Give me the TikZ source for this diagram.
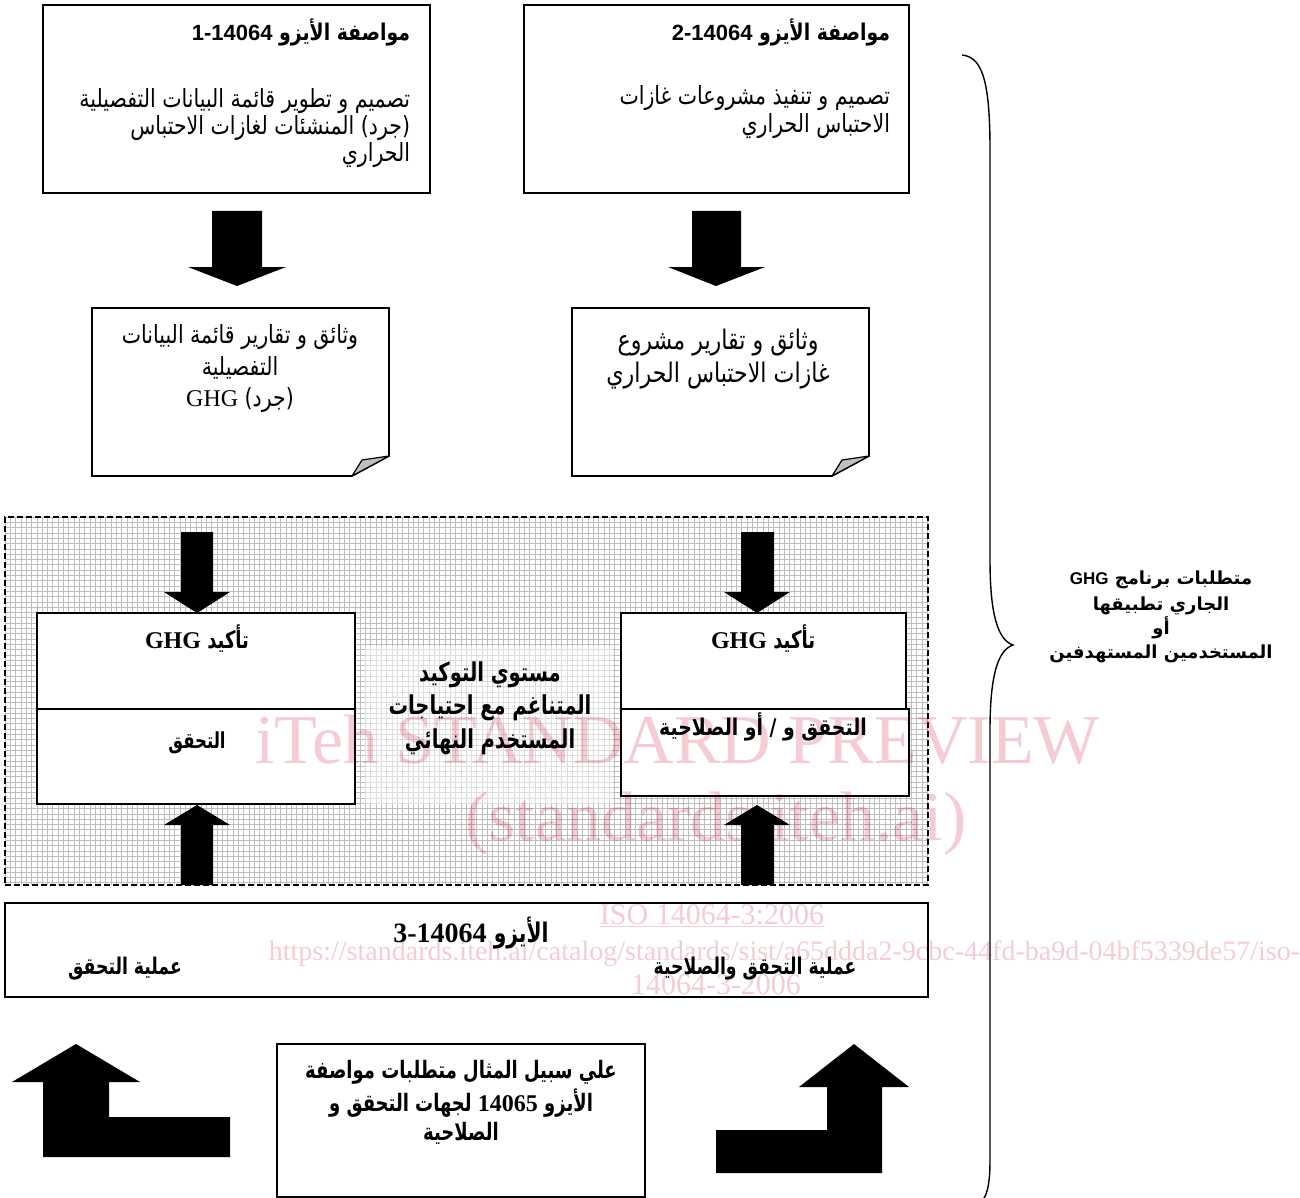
\documentclass[tikz,border=0pt]{standalone}
\usepackage{fontspec}
\setmainfont{Liberation Serif}
\newfontfamily\ar[Script=Arabic]{DejaVu Sans}
\newfontfamily\arn[Script=Arabic,FakeStretch=0.82]{DejaVu Sans}
\newfontfamily\arc[Script=Arabic,FakeStretch=0.75]{DejaVu Sans}
\newfontfamily\lsans{Liberation Sans}
\newfontfamily\lser{Liberation Serif}
\TeXXeTstate=1
\newcommand\ARt[1]{\beginR #1\endR}
\newcommand\LTt[1]{\beginL #1\endL}
\usetikzlibrary{calc}
\definecolor{wmpink}{RGB}{245,204,212}
\tikzset{
  panel/.style={draw=black, line width=1.6pt, fill=white, inner sep=0pt, outer sep=0pt},
  lbl/.style={inner sep=0pt, outer sep=0pt},
  blk/.style={fill=black},
  gridline/.style={draw=black!26, line width=0.6pt},
  dashline/.style={draw=black, line width=1.2pt, dash pattern=on 6pt off 3pt},
  wm/.style={inner sep=0pt, outer sep=0pt, text=wmpink},
  fold/.style={draw=black, line width=1.2pt, fill=black!25, line join=round},
  docline/.style={draw=black, line width=1.6pt, fill=white, line join=miter},
  bodyfont/.style={font=\arn\fontsize{25}{25}\selectfont},
  titlefont/.style={font=\arn\bfseries\fontsize{23}{23}\selectfont},
  condb/.style={font=\arc\bfseries\fontsize{26}{26}\selectfont},
  sidefont/.style={font=\ar\bfseries\fontsize{18}{18}\selectfont},
}
\begin{document}
\begin{tikzpicture}[x=1pt,y=-1pt]
\useasboundingbox (0,0) rectangle (1300,1198);

% ---------- top boxes ----------
\node[panel, minimum width=387, minimum height=188, anchor=north west] (b1) at (43,5) {};
\node[panel, minimum width=385, minimum height=188, anchor=north west] (b2) at (524,5) {};

\node[lbl, titlefont, anchor=base east] (b1t) at (410,41) {\ARt{مواصفة الأيزو \LTt{{\lsans\bfseries\fontsize{22}{22}\selectfont 1-14064}}}};
\node[lbl, bodyfont, anchor=base east] (b1a) at (410,108) {\ARt{تصميم و تطوير قائمة البيانات التفصيلية}};
\node[lbl, bodyfont, anchor=base east] (b1b) at (410,135) {\ARt{(جرد) المنشئات لغازات الاحتباس}};
\node[lbl, bodyfont, anchor=base east] (b1c) at (410,162) {\ARt{الحراري}};

\node[lbl, titlefont, anchor=base east] (b2t) at (890,41) {\ARt{مواصفة الأيزو \LTt{{\lsans\bfseries\fontsize{22}{22}\selectfont 2-14064}}}};
\node[lbl, bodyfont, anchor=base east] (b2a) at (890,105) {\ARt{تصميم و تنفيذ مشروعات غازات}};
\node[lbl, bodyfont, anchor=base east] (b2b) at (890,133) {\ARt{الاحتباس الحراري}};

% ---------- top block arrows ----------
\fill[blk] (212,211) -- (262,211) -- (262,267) -- (286,267) -- (237,286) -- (188,267) -- (212,267) -- cycle;
\fill[blk] (692,211) -- (741,211) -- (741,267) -- (765,267) -- (716,286) -- (668,267) -- (692,267) -- cycle;

% ---------- document shapes ----------
\node[lbl, minimum width=297, minimum height=168, anchor=north west] (d1) at (92,308) {};
\node[lbl, minimum width=297, minimum height=168, anchor=north west] (d2) at (572,308) {};
\draw[docline] (d1.north west) -- (d1.north east) -- ([yshift=20pt]d1.south east) -- ([xshift=-37pt]d1.south east) -- (d1.south west) -- cycle;
\draw[fold] ([yshift=20pt]d1.south east) -- ([xshift=-37pt]d1.south east) -- ([xshift=-27pt,yshift=16pt]d1.south east) -- cycle;
\draw[docline] (d2.north west) -- (d2.north east) -- ([yshift=20pt]d2.south east) -- ([xshift=-37pt]d2.south east) -- (d2.south west) -- cycle;
\draw[fold] ([yshift=20pt]d2.south east) -- ([xshift=-37pt]d2.south east) -- ([xshift=-27pt,yshift=16pt]d2.south east) -- cycle;

\node[lbl, bodyfont, anchor=base] (d1a) at (240,343) {\ARt{وثائق و تقارير قائمة البيانات}};
\node[lbl, bodyfont, anchor=base] (d1b) at (240,375) {\ARt{التفصيلية}};
\node[lbl, bodyfont, anchor=base] (d1c) at (240,406) {\ARt{(جرد) \LTt{{\lser\fontsize{24}{24}\selectfont GHG}}}};
\node[lbl, font=\arn\fontsize{27}{27}\selectfont, anchor=base] (d2a) at (718,349) {\ARt{وثائق و تقارير مشروع}};
\node[lbl, font=\arn\fontsize{27}{27}\selectfont, anchor=base] (d2b) at (718,382) {\ARt{غازات الاحتباس الحراري}};

% ---------- grid region ----------
\begin{scope}
\clip (5,517) rectangle (928,885);
\fill[white] (5,517) rectangle (928,885);
\foreach \x in {5,10.3,...,930} \draw[gridline] (\x,517) -- (\x,885);
\foreach \y in {517,522.3,...,887} \draw[gridline] (5,\y) -- (928,\y);
\end{scope}
\fill[white, opacity=0.5] (365,646) rectangle (613,804);
\node[lbl, dashline, minimum width=923, minimum height=368, anchor=north west] (reg) at (5,517) {};

% inner arrows
\fill[blk] (181,532) -- (213,532) -- (213,592) -- (230,592) -- (197,613) -- (164,592) -- (181,592) -- cycle;
\fill[blk] (741,532) -- (774,532) -- (774,592) -- (790,592) -- (757,613) -- (724,592) -- (741,592) -- cycle;
\fill[blk] (181,885) -- (213,885) -- (213,825) -- (230,825) -- (197,805) -- (164,825) -- (181,825) -- cycle;
\fill[blk] (741,885) -- (774,885) -- (774,825) -- (790,825) -- (757,805) -- (724,825) -- (741,825) -- cycle;

% assurance boxes
\node[panel, line width=1.4pt, minimum width=318, minimum height=191, anchor=north west] (aL) at (37,613) {};
\draw[line width=1.4pt] (37,709) -- (355,709);
\node[panel, line width=1.4pt, minimum width=285, minimum height=96, anchor=north west] (aR1) at (621,613) {};
\node[panel, line width=1.4pt, minimum width=288, minimum height=87, anchor=north west] (aR2) at (621,709) {};

% ---------- watermark (under the texts) ----------
\begin{scope}[blend mode=multiply]
\node[wm, anchor=base west, font=\lser\fontsize{70}{70}\selectfont] (w1) at (255,763) {iTeh STANDARD PREVIEW};
\node[wm, anchor=base west, font=\lser\fontsize{70}{70}\selectfont] (w2) at (465,840) {(standards.iteh.ai)};
\end{scope}

\node[lbl, font=\arc\bfseries\fontsize{24}{24}\selectfont, anchor=base] (aLt) at (197,648) {\ARt{تأكيد \LTt{{\lser\bfseries\fontsize{24}{24}\selectfont GHG}}}};
\node[lbl, font=\arc\bfseries\fontsize{22}{22}\selectfont, anchor=base] (aLb) at (197,748) {\ARt{التحقق}};
\node[lbl, font=\arc\bfseries\fontsize{24}{24}\selectfont, anchor=base] (aRt) at (763,648) {\ARt{تأكيد \LTt{{\lser\bfseries\fontsize{24}{24}\selectfont GHG}}}};
\node[lbl, font=\arn\bfseries\fontsize{23}{23}\selectfont, anchor=base] (aRb) at (763,735) {\ARt{التحقق و / أو الصلاحية}};

\node[lbl, condb, anchor=base] (c1) at (490,681) {\ARt{مستوي التوكيد}};
\node[lbl, condb, anchor=base] (c2) at (490,714) {\ARt{المتناغم مع احتياجات}};
\node[lbl, condb, anchor=base] (c3) at (490,748) {\ARt{المستخدم النهائي}};

% ---------- bottom box ----------
\node[panel, minimum width=923, minimum height=94, anchor=north west] (iso3) at (5,903) {};
\begin{scope}[blend mode=multiply]
\node[wm, anchor=base, font=\lser\fontsize{30}{30}\selectfont] (w3) at (712,924) {\underline{ISO 14064-3:2006}};
\node[wm, anchor=base east, font=\lser\fontsize{28}{28}\selectfont] (w4) at (1300,960) {https://standards.iteh.ai/catalog/standards/sist/a65ddda2-9cbc-44fd-ba9d-04bf5339de57/iso-};
\node[wm, anchor=base, font=\lser\fontsize{30}{30}\selectfont] (w5) at (716,994) {14064-3-2006};
\end{scope}
\node[lbl, font=\arc\bfseries\fontsize{27}{27}\selectfont, anchor=base] (iso3t) at (471,942) {\ARt{الأيزو \LTt{{\lser\bfseries\fontsize{28}{28}\selectfont 3-14064}}}};
\node[lbl, font=\arc\bfseries\fontsize{23}{23}\selectfont, anchor=base] (iso3l) at (125,974) {\ARt{عملية التحقق}};
\node[lbl, font=\arc\bfseries\fontsize{23}{23}\selectfont, anchor=base] (iso3r) at (755,974) {\ARt{عملية التحقق والصلاحية}};

% ---------- example box ----------
\node[panel, minimum width=368, minimum height=153, anchor=north west] (ex) at (277,1044) {};
\node[lbl, font=\arc\bfseries\fontsize{24}{24}\selectfont, anchor=base] (ex1) at (461,1078) {\ARt{علي سبيل المثال  متطلبات مواصفة}};
\node[lbl, font=\arc\bfseries\fontsize{24}{24}\selectfont, anchor=base] (ex2) at (461,1111) {\ARt{الأيزو \LTt{{\lser\bfseries\fontsize{24}{24}\selectfont 14065}} لجهات التحقق و}};
\node[lbl, font=\arc\bfseries\fontsize{24}{24}\selectfont, anchor=base] (ex3) at (461,1140) {\ARt{الصلاحية}};

% bent arrows
\fill[blk] (43,1157) -- (230,1157) -- (230,1117) -- (109,1117) -- (109,1082) -- (140,1082) -- (76,1044) -- (12,1082) -- (43,1082) -- cycle;
\fill[blk] (882,1173) -- (716,1173) -- (716,1130) -- (827,1130) -- (827,1087) -- (799,1087) -- (854,1044) -- (909,1087) -- (882,1087) -- cycle;

% ---------- brace ----------
\draw[line width=1.4pt] (962,55) .. controls (982,57) and (990,80) .. (990,150) -- (990,560) .. controls (990,615) and (998,640) .. (1013,645) .. controls (998,650) and (990,675) .. (990,730) -- (990,1160) .. controls (990,1180) and (988,1192) .. (984,1198);

\node[lbl, sidefont, anchor=base] (s1) at (1161,584) {\ARt{متطلبات برنامج \LTt{{\lsans\bfseries\fontsize{17}{17}\selectfont GHG}}}};
\node[lbl, sidefont, anchor=base] (s2) at (1161,610) {\ARt{الجاري تطبيقها}};
\node[lbl, sidefont, anchor=base] (s3) at (1161,634) {\ARt{أو}};
\node[lbl, sidefont, anchor=base] (s4) at (1161,658) {\ARt{المستخدمين المستهدفين}};
\end{tikzpicture}
\end{document}
